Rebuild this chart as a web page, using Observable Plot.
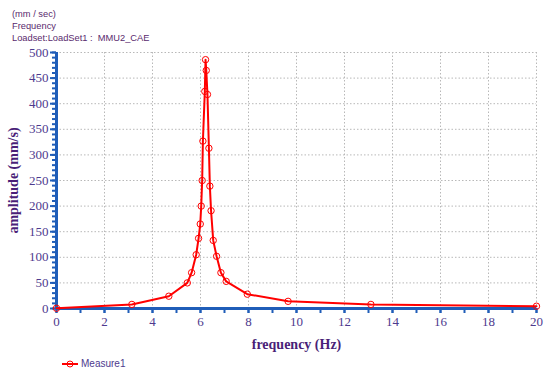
<!DOCTYPE html>
<html>
<head>
<meta charset="utf-8">
<script src="https://cdn.jsdelivr.net/npm/d3@7"></script>
<script src="https://cdn.jsdelivr.net/npm/@observablehq/plot@0.6"></script>
<style>
  body { margin: 0; background: #fff; }
  #wrap { position: relative; width: 550px; height: 376px; overflow: hidden; }
  #titles { position: absolute; left: 12px; top: 8px; font: 9.3px "Liberation Sans", Arial, sans-serif; color: #5a2a6e; line-height: 12px; }
  #legend { position: absolute; left: 62px; top: 358px; font: 10px "Liberation Sans", Arial, sans-serif; color: #4e3a8e; display: flex; align-items: center; }
  #legend svg { margin-right: 3px; }
</style>
</head>
<body>
<div id="wrap">
  <div id="titles"><div>(mm / sec)</div><div>Frequency</div><div>Loadset:LoadSet1 :&nbsp; MMU2_CAE</div></div>
  <div id="legend"><svg width="16" height="10"><line x1="0" y1="5" x2="16" y2="5" stroke="#ff0000" stroke-width="2"/><circle cx="8" cy="5" r="3" fill="none" stroke="#ff0000" stroke-width="1"/></svg><span>Measure1</span></div>
</div>
<script>
const freq = [0, 3.14, 4.68, 5.45, 5.63, 5.82, 5.92, 5.99, 6.03, 6.07, 6.10, 6.18, 6.21, 6.24, 6.29, 6.35, 6.39, 6.44, 6.53, 6.67, 6.85, 7.07, 7.95, 9.65, 13.1, 20];
const amp  = [0.5, 8, 24, 50, 70, 105, 137, 165, 200, 250, 327, 424, 486, 465, 418, 313, 239, 191, 133, 102, 70, 53, 28, 14, 8, 4.5];
const xTicks = [0, 2, 4, 6, 8, 10, 12, 14, 16, 18, 20];
const yTicks = [0, 50, 100, 150, 200, 250, 300, 350, 400, 450, 500];
const seriesName = "Measure1";

const data = freq.map((f, i) => ({f, a: amp[i], s: seriesName}));
const axisBlue = "#1f5db8";
const labelColor = "#4e3a8e";
const titleColor = "#4a1f78";
const serif = "'Liberation Serif', 'DejaVu Serif', serif";

const chart = Plot.plot({
  width: 550,
  height: 376,
  marginLeft: 56,
  marginRight: 14,
  marginTop: 52,
  marginBottom: 68,
  style: {fontFamily: serif, fontSize: "13px", color: labelColor, background: "transparent"},
  x: {domain: [0, 20]},
  y: {domain: [0, 500]},
  marks: [
    Plot.gridX(xTicks.filter(d => d > 0), {stroke: "#b8b8b8", strokeOpacity: 1, strokeDasharray: "1.5,2"}),
    Plot.gridY(yTicks.filter(d => d > 0), {stroke: "#b8b8b8", strokeOpacity: 1, strokeDasharray: "1.5,2"}),
    Plot.axisX(d3.range(0, 21, 1), {tickSize: 5, text: null, stroke: axisBlue, strokeWidth: 2, label: null}),
    Plot.axisY(d3.range(0, 501, 10), {tickSize: 4, text: null, stroke: axisBlue, strokeWidth: 2, label: null}),
    Plot.axisX(xTicks, {tickSize: 5, stroke: axisBlue, strokeWidth: 2, fill: labelColor, fontSize: 13, tickPadding: 3,
      label: "frequency (Hz)", labelAnchor: "center", labelArrow: "none", labelOffset: 40}),
    Plot.axisY(yTicks, {tickSize: 6, stroke: axisBlue, strokeWidth: 2, fill: labelColor, fontSize: 13, tickPadding: 2,
      label: "amplitude (mm/s)", labelAnchor: "center", labelArrow: "none", labelOffset: 48}),
    Plot.ruleX([0], {stroke: axisBlue, strokeWidth: 3}),
    Plot.ruleY([0], {stroke: axisBlue, strokeWidth: 3, x1: 0, x2: 20}),
    Plot.line(data, {x: "f", y: "a", stroke: "#ff0000", strokeWidth: 2}),
    Plot.dot(data, {x: "f", y: "a", r: 3.2, stroke: "#ff0000", strokeWidth: 1, fill: "none"})
  ]
});
chart.querySelectorAll("[aria-label='x-axis label'] text, [aria-label='y-axis label'] text").forEach(t => {
  t.setAttribute("font-weight", "bold");
  t.setAttribute("fill", titleColor);
  t.setAttribute("font-size", "14");
});
chart.style.position = "absolute";
chart.style.left = "0";
chart.style.top = "0";
document.getElementById("wrap").prepend(chart);
</script>
</body>
</html>
